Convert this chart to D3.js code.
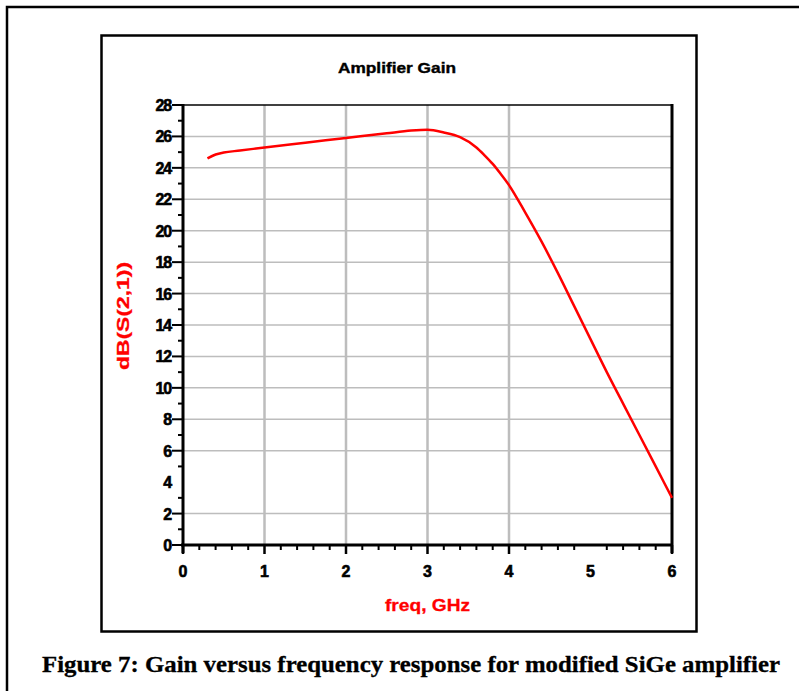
<!DOCTYPE html>
<html><head><meta charset="utf-8">
<script src="https://cdn.jsdelivr.net/npm/d3@7"></script>
<style>body{margin:0;background:#fff}svg{display:block}</style>
</head><body>
<script>
const freq = [0.3,0.4,0.5,0.7,1.0,1.5,2.0,2.5,2.8,3.0,3.2,3.4,3.6,3.7,3.8,3.9,4.0,4.2,4.4,4.6,4.8,5.0,5.2,5.4,5.6,5.8,6.0];
const gain = [24.6,24.85,24.98,25.1,25.3,25.6,25.9,26.2,26.37,26.42,26.25,25.95,25.3,24.8,24.25,23.6,22.9,21.15,19.3,17.3,15.2,13.1,11.0,9.0,7.0,5.0,3.0];
const yTicks = [0,2,4,6,8,10,12,14,16,18,20,22,24,26,28];
const xTicks = [0,1,2,3,4,5,6];
const title = "Amplifier Gain";
const xLabel = "freq, GHz";
const yLabel = "dB(S(2,1))";
const caption = "Figure 7: Gain versus frequency response for modified SiGe amplifier";

const W = 799, H = 691;
const svg = d3.select("body").append("svg").attr("width", W).attr("height", H);
const SANS = "Liberation Sans, Arial, sans-serif";

// frames
svg.append("path").attr("d", "M7,691 V7 H799").attr("fill","none").attr("stroke","#000").attr("stroke-width",2.5);
svg.append("rect").attr("x",101.5).attr("y",35.5).attr("width",595).attr("height",596)
  .attr("fill","none").attr("stroke","#000").attr("stroke-width",2.5);

const x = d3.scaleLinear().domain([0,6]).range([183,672]);
const y = d3.scaleLinear().domain([0,28]).range([545,105]);

// grid
const g = svg.append("g");
g.selectAll(".hg").data(yTicks.filter(v => v !== 0 && v !== 28 && v !== 4)).enter().append("line")
  .attr("x1", x(0)).attr("x2", x(6)).attr("y1", d => y(d)).attr("y2", d => y(d))
  .attr("stroke","#bdbdbd").attr("stroke-width",1.5);
g.selectAll(".vg").data(xTicks.filter(v => v !== 0 && v !== 6 && v !== 5)).enter().append("line")
  .attr("y1", y(0)).attr("y2", y(28)).attr("x1", d => x(d)).attr("x2", d => x(d))
  .attr("stroke","#bdbdbd").attr("stroke-width",2.5);

// top and right border
svg.append("line").attr("x1",x(0)).attr("x2",x(6)).attr("y1",y(28)).attr("y2",y(28)).attr("stroke","#000").attr("stroke-width",1.5);
svg.append("line").attr("x1",x(6)).attr("x2",x(6)).attr("y1",y(28)-1).attr("y2",y(0)+8).attr("stroke","#000").attr("stroke-width",3);

// y axis
const yMinor = d3.range(1,28,2);
svg.append("line").attr("x1",x(0)).attr("x2",x(0)).attr("y1",y(28)-1).attr("y2",y(0)+8).attr("stroke","#000").attr("stroke-width",3);
svg.selectAll(".ymaj").data(yTicks.filter(v=>v!==4)).enter().append("line")
  .attr("x1",x(0)-11).attr("x2",x(0)).attr("y1",d=>y(d)).attr("y2",d=>y(d)).attr("stroke","#000").attr("stroke-width",2);
svg.selectAll(".ymin").data(yMinor).enter().append("line")
  .attr("x1",x(0)-5).attr("x2",x(0)).attr("y1",d=>y(d)).attr("y2",d=>y(d)).attr("stroke","#000").attr("stroke-width",2);
svg.selectAll(".ylab").data(yTicks).enter().append("text")
  .attr("x", x(0)-12).attr("y", d=>y(d)+6).attr("text-anchor","end")
  .attr("font-family",SANS).attr("font-weight","bold").attr("font-size",16)
  .attr("stroke","#000").attr("stroke-width",0.6)
  .attr("letter-spacing",-1.2).text(d=>d);

// x axis
svg.append("line").attr("x1",x(0)-2).attr("x2",x(6)+1).attr("y1",y(0)).attr("y2",y(0)).attr("stroke","#000").attr("stroke-width",3);
const xMinor = d3.range(0,6.01,0.2).map(v=>+v.toFixed(1)).filter(v => Math.abs(v-Math.round(v))>1e-6);
svg.selectAll(".xmaj").data(xTicks.filter(v=>v!==5)).enter().append("line")
  .attr("x1",d=>x(d)).attr("x2",d=>x(d)).attr("y1",y(0)).attr("y2",y(0)+9).attr("stroke","#000").attr("stroke-width",2.5);
svg.selectAll(".xmin").data(xMinor).enter().append("line")
  .attr("x1",d=>x(d)).attr("x2",d=>x(d)).attr("y1",y(0)).attr("y2",y(0)+5).attr("stroke","#000").attr("stroke-width",2);
svg.selectAll(".xlab").data(xTicks).enter().append("text")
  .attr("x", d=>x(d)).attr("y", y(0)+32).attr("text-anchor","middle")
  .attr("font-family",SANS).attr("font-weight","bold").attr("font-size",16)
  .attr("stroke","#000").attr("stroke-width",0.6)
  .text(d=>d);

// curve
const line = d3.line().x((d,i)=>x(freq[i])).y(d=>y(d)).curve(d3.curveMonotoneX);
svg.append("path").datum(gain).attr("d", line).attr("fill","none").attr("stroke","#ff0000").attr("stroke-width",2.5);

// texts
svg.append("text").attr("x",338).attr("y",73)
  .attr("font-family",SANS).attr("font-weight","bold").attr("font-size",15)
  .attr("stroke","#000").attr("stroke-width",0.4)
  .attr("textLength",118).attr("lengthAdjust","spacingAndGlyphs").text(title);
svg.append("text").attr("x",385).attr("y",611).attr("fill","#ff0000")
  .attr("font-family",SANS).attr("font-weight","bold").attr("font-size",17)
  .attr("stroke","#ff0000").attr("stroke-width",0.3)
  .attr("textLength",85).attr("lengthAdjust","spacingAndGlyphs").text(xLabel);
svg.append("text").attr("transform","translate(129,370) rotate(-90)").attr("fill","#ff0000")
  .attr("font-family",SANS).attr("font-weight","bold").attr("font-size",17)
  .attr("stroke","#ff0000").attr("stroke-width",0.3)
  .attr("textLength",108).attr("lengthAdjust","spacingAndGlyphs").text(yLabel);
svg.append("text").attr("x",42).attr("y",672)
  .attr("font-family","Liberation Serif, Times New Roman, serif").attr("font-weight","bold").attr("font-size",23)
  .attr("stroke","#000").attr("stroke-width",0.3)
  .attr("textLength",738).attr("lengthAdjust","spacingAndGlyphs").text(caption);
</script>
</body></html>
